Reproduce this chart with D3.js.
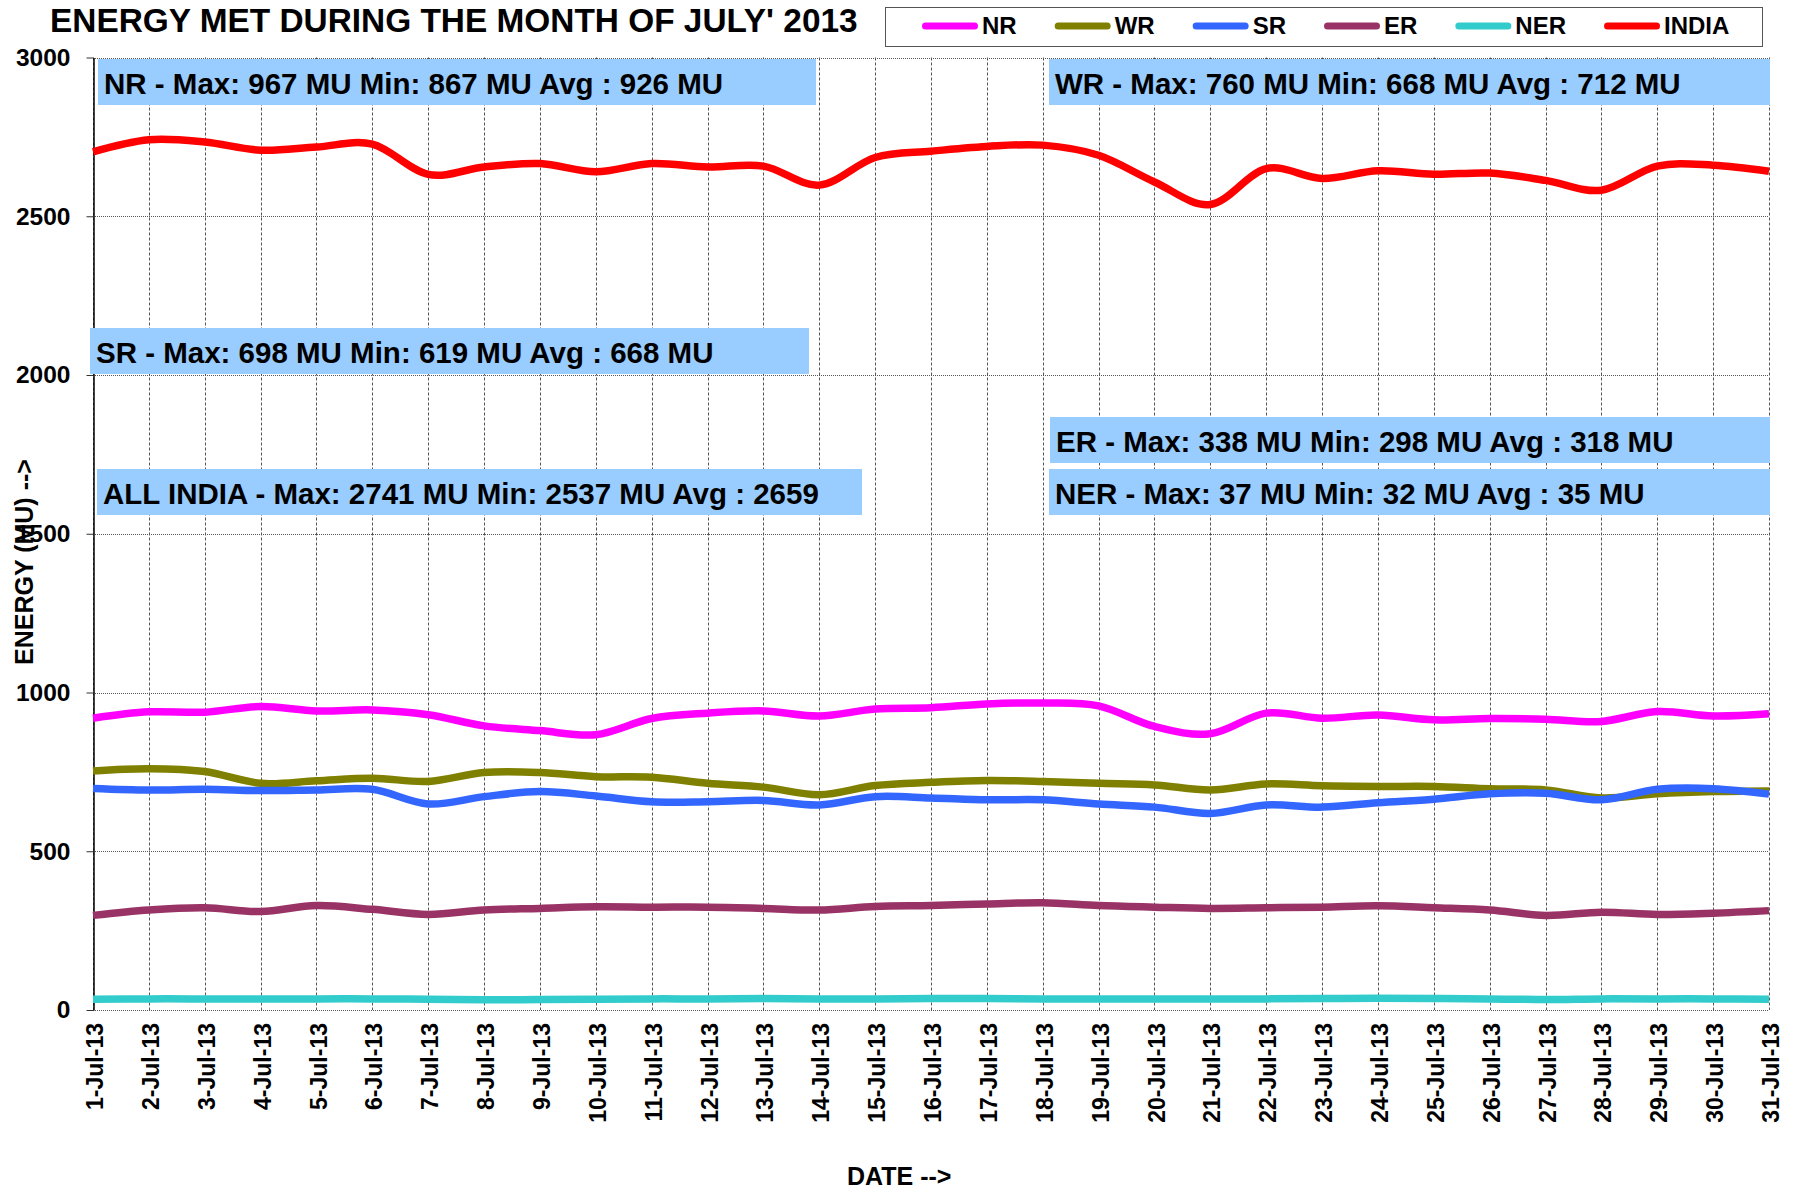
<!DOCTYPE html>
<meta charset="utf-8">
<style>
  body { margin: 0; background: #fff; }
  text { font-family: "Liberation Sans", Arial, sans-serif; font-weight: bold; fill: #000; }
</style>
<script src="https://d3js.org/d3.v7.min.js"></script>
<body>
<div id="chart"></div>
<script>
// daily energy met, MU
var days = d3.range(1, 32);
var dayLabels = days.map(function(d) { return d + "-Jul-13"; });
var yTicks = [0, 500, 1000, 1500, 2000, 2500, 3000];

var nr    = [919, 939, 938, 956, 942, 945, 930, 895, 880, 867, 918, 935, 942, 926, 948, 952,
             964, 967, 958, 893, 870, 935, 919, 929, 914, 918, 916, 909, 940, 926, 933];
var wr    = [753, 760, 751, 714, 722, 730, 720, 748, 748, 735, 733, 714, 702, 678, 707, 717,
             723, 720, 714, 709, 693, 712, 706, 704, 704, 697, 693, 668, 681, 688, 690];
var sr    = [698, 693, 695, 691, 693, 695, 649, 672, 688, 674, 656, 656, 660, 646, 672, 668,
             662, 662, 649, 639, 619, 646, 639, 653, 664, 681, 683, 662, 695, 697, 680];
var er    = [298, 315, 322, 310, 329, 317, 301, 315, 320, 325, 324, 324, 320, 315, 326, 329,
             334, 338, 329, 324, 320, 322, 324, 328, 322, 315, 298, 308, 301, 305, 313];
var ner   = [34, 35, 35, 35, 35, 35, 34, 32, 33, 34, 35, 35, 36, 35, 35, 36,
             36, 35, 35, 35, 35, 35, 36, 37, 36, 35, 33, 35, 35, 35, 34];
var india = [2703, 2741, 2734, 2708, 2718, 2727, 2632, 2655, 2666, 2640, 2666, 2655, 2658, 2598, 2685, 2705,
             2720, 2724, 2692, 2608, 2537, 2650, 2619, 2643, 2632, 2636, 2613, 2582, 2658, 2661, 2642];

var seriesNames  = ["NR", "WR", "SR", "ER", "NER", "INDIA"];
var seriesValues = [nr, wr, sr, er, ner, india];
var seriesColors = ["#ff00ff", "#808000", "#3366ff", "#993366", "#33cccc", "#ff0000"];

var notes = [
  "NR - Max: 967 MU Min: 867 MU Avg : 926 MU",
  "WR - Max: 760 MU Min: 668 MU Avg : 712 MU",
  "SR - Max: 698 MU Min: 619 MU Avg : 668 MU",
  "ALL INDIA - Max: 2741 MU Min: 2537 MU Avg : 2659",
  "ER - Max: 338 MU Min: 298 MU Avg : 318 MU",
  "NER - Max: 37 MU Min: 32 MU Avg : 35 MU"
];
// text box placement (pixels)
var noteBoxes = [
  {x: 98,   y: 59,  w: 718},
  {x: 1049, y: 59,  w: 721},
  {x: 90,   y: 328, w: 719},
  {x: 97,   y: 469, w: 765},
  {x: 1050, y: 417, w: 720},
  {x: 1049, y: 469, w: 721}
];

var W = 1793, H = 1192;
var plot = {left: 93, right: 1769, top: 57.5, bottom: 1010};

var svg = d3.select("#chart").append("svg")
    .attr("width", W)
    .attr("height", H);

var x = d3.scaleLinear().domain([1, 31]).range([plot.left, plot.right]);
var y = d3.scaleLinear().domain([0, 3000]).range([plot.bottom, plot.top]);

// grid
svg.append("g")
  .selectAll("line")
  .data(days)
  .enter().append("line")
    .attr("x1", function(d) { return Math.round(x(d)) + 0.5; })
    .attr("x2", function(d) { return Math.round(x(d)) + 0.5; })
    .attr("y1", plot.top)
    .attr("y2", plot.bottom)
    .attr("stroke", "#555")
    .attr("stroke-width", 1)
    .attr("stroke-dasharray", "3,2");

svg.append("g")
  .selectAll("line")
  .data(yTicks)
  .enter().append("line")
    .attr("x1", plot.left)
    .attr("x2", plot.right)
    .attr("y1", function(d) { return Math.round(y(d)) + 0.5; })
    .attr("y2", function(d) { return Math.round(y(d)) + 0.5; })
    .attr("stroke", "#555")
    .attr("stroke-width", 1)
    .attr("stroke-dasharray", "1,1");

// y axis
var yAxis = svg.append("g")
    .attr("transform", "translate(" + (Math.round(plot.left) + 0.5) + ",0)")
    .call(d3.axisLeft(y).tickValues(yTicks).tickFormat(d3.format("d"))
      .tickSize(7).tickPadding(16).tickSizeOuter(0));
yAxis.select(".domain").attr("stroke", "#000").attr("stroke-width", 1.5);
yAxis.selectAll(".tick line").attr("stroke", "#333");
yAxis.selectAll("text")
    .attr("fill", "#000")
    .style("font-size", "24.5px")
    .style("font-family", "Liberation Sans, Arial, sans-serif")
    .style("font-weight", "bold");

// x labels
svg.append("g")
  .selectAll("text")
  .data(days)
  .enter().append("text")
    .attr("transform", function(d) { return "translate(" + (x(d) + 2) + ",1023) rotate(-90)"; })
    .attr("text-anchor", "end")
    .attr("dy", "0.35em")
    .style("font-size", "23px")
    .text(function(d, i) { return dayLabels[i]; });

// text boxes
var boxes = svg.append("g");
noteBoxes.forEach(function(b, i) {
  boxes.append("rect")
    .attr("x", b.x).attr("y", b.y)
    .attr("width", b.w).attr("height", 46)
    .attr("fill", "#99ccff");
  boxes.append("text")
    .attr("x", b.x + 6).attr("y", b.y + 35)
    .style("font-size", "29.5px")
    .text(notes[i]);
});

// series
var line = d3.line()
    .x(function(d, i) { return x(days[i]); })
    .y(function(d) { return y(d); })
    .curve(d3.curveCardinal.tension(0));

svg.append("g")
  .selectAll("path")
  .data(seriesValues)
  .enter().append("path")
    .attr("fill", "none")
    .attr("stroke", function(d, i) { return seriesColors[i]; })
    .attr("stroke-width", 7.5)
    .attr("stroke-linejoin", "round")
    .attr("d", line);

// title
svg.append("text")
    .attr("x", 50)
    .attr("y", 32)
    .style("font-size", "33.4px")
    .text("ENERGY MET DURING THE MONTH OF JULY' 2013");

// legend
var legend = svg.append("g");
legend.append("rect")
    .attr("x", 885.5).attr("y", 7.5)
    .attr("width", 877).attr("height", 39)
    .attr("fill", "#fff")
    .attr("stroke", "#555");
var lx = 922;
seriesNames.forEach(function(name, i) {
  legend.append("line")
    .attr("x1", lx + 3.5).attr("x2", lx + 52.5)
    .attr("y1", 26).attr("y2", 26)
    .attr("stroke", seriesColors[i])
    .attr("stroke-width", 7)
    .attr("stroke-linecap", "round");
  var t = legend.append("text")
    .attr("x", lx + 60).attr("y", 34)
    .style("font-size", "24px")
    .text(name);
  lx = lx + 60 + t.node().getComputedTextLength() + 38;
});

// axis titles
svg.append("text")
    .attr("transform", "translate(33,562) rotate(-90)")
    .attr("text-anchor", "middle")
    .style("font-size", "25px")
    .text("ENERGY (MU) -->");

svg.append("text")
    .attr("x", 847)
    .attr("y", 1185)
    .style("font-size", "25px")
    .text("DATE -->");
</script>
</body>
